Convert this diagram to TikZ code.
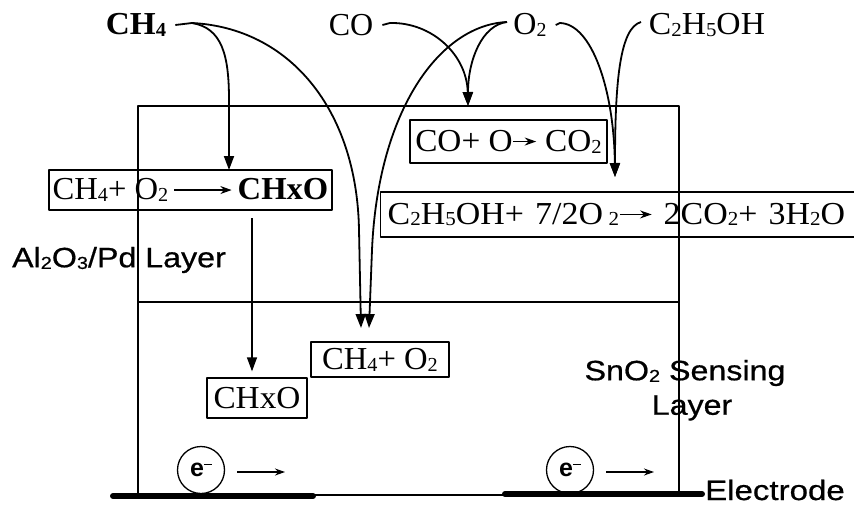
\documentclass[tikz,border=0pt]{standalone}
\usepackage{fontspec}
\usepackage{graphicx}
\setmainfont{Liberation Serif}
\setsansfont{Liberation Sans}
\newfontfamily\heavysans{Liberation Sans}[FakeBold=0.6]
\usetikzlibrary{arrows.meta}
\newcommand\dsub[1]{\raisebox{-0.06em}{\scalebox{0.62}{#1}}}
\newcommand\txtarrow[1]{\tikz[baseline=-0.3em]\draw[line width=1.3pt,-{Stealth[length=11pt,width=8pt]}] (0pt,0pt) -- (#1,0pt);}
\newcommand\wide[2]{\scalebox{#1}[1]{#2}}
\begin{document}
\begin{tikzpicture}[x=1pt,y=-1pt,line join=round,
  serif/.style={font=\fontsize{32}{36}\selectfont, inner sep=0pt},
  sans/.style={font=\heavysans\fontsize{28}{32}\selectfont, inner sep=0pt},
  box/.style={draw, line width=1.3pt, inner sep=0pt, font=\fontsize{32}{36}\selectfont},
  frame/.style={line width=1.5pt},
  curve/.style={line width=1.8pt},
  bigtip/.style={-{Triangle[length=14pt,width=10pt]}},
  etip/.style={line width=1.3pt,-{Stealth[length=10pt,width=7pt]}},
  electron/.style={draw, circle, line width=1.3pt, minimum size=47pt, inner sep=0pt, font=\sffamily\bfseries\fontsize{25}{27}\selectfont},
  electrode/.style={line width=6pt, line cap=round}]
\useasboundingbox (0,0) rectangle (854,506);

% gases
\node[serif] (ch4) at (136,25) {\wide{1.04}{\textbf{CH\dsub{4}}}};
\node[serif] (co) at (351,25) {CO};
\node[serif] (o2) at (530,25) {O\dsub{2}};
\node[serif] (et) at (707,25) {\wide{1.05}{C\dsub{2}H\dsub{5}OH}};

% reaction boxes
\node[box, minimum width=283pt, minimum height=40pt] (r1) at (190.5,190)
  {\wide{1.02}{CH\dsub{4}+ O\dsub{2}\,\txtarrow{56pt}\,\textbf{CHxO}}};
\node[box, minimum width=197pt, minimum height=43pt] (r2) at (508.5,141.5)
  {\wide{1.04}{CO+ O\txtarrow{22pt} CO\dsub{2}}};
\node[box, minimum width=480pt, minimum height=45pt, anchor=west, text width=466pt, inner xsep=7pt, align=left] (r3) at (380,214.5)
  {\wide{1.06}{C\dsub{2}H\dsub{5}OH+ 7/2O\,\dsub{2}\txtarrow{30pt} 2CO\dsub{2}+ 3H\dsub{2}O}};
\node[box, minimum width=138pt, minimum height=35pt] (r4) at (380,359.5)
  {\wide{1.02}{CH\dsub{4}+ O\dsub{2}}};
\node[box, minimum width=100pt, minimum height=40pt] (r5) at (257,398)
  {\wide{1.04}{CHxO}};

% layer labels
\node[sans] (al) at (119,260) {\wide{1.15}{Al\dsub{2}O\dsub{3}/Pd Layer}};
\node[sans] (sn1) at (685,373) {\wide{1.15}{SnO\dsub{2} Sensing}};
\node[sans] (sn2) at (692,408) {\wide{1.15}{Layer}};
\node[sans, anchor=west] (el) at (705,490) {\wide{1.18}{Electrode}};

% layers
\draw[frame] (138,106) rectangle (679,495);
\draw[frame] (138,302) -- (679,302);

% electrodes
\draw[electrode] (113,496) -- (313,496);
\draw[electrode] (505,494) -- (702,494);

% electrons
\node[electron] (e1) at (201,470) {e\raisebox{0.45em}{\rule{0.32em}{0.07em}}};
\node[electron] (e2) at (570,470) {e\raisebox{0.45em}{\rule{0.32em}{0.07em}}};
\coordinate (a1s) at (237,472);
\coordinate (a1e) at (285,472);
\coordinate (a2s) at (606,472);
\coordinate (a2e) at (654,472);
\draw[etip] (a1s) -- (a1e);
\draw[etip] (a2s) -- (a2e);

% junctions and tips
\coordinate (ch4j) at (192,23);
\coordinate (coj) at (390,23);
\coordinate (o2w) at (507,22);
\coordinate (o2e) at (560,23);
\coordinate (etj) at (641,22);
\coordinate (tipA) at (229,170);
\coordinate (tipB) at (361,328);
\coordinate (tipC) at (468,106);
\coordinate (tipD) at (369,328);
\coordinate (tipE) at (615,177);
\coordinate (dA) at (252,218);

% CH4 paths
\draw[curve] ([xshift=9pt]ch4.east) -- (ch4j);
\draw[curve,bigtip] (ch4j) .. controls (222,28) and (229,55) .. (229,100) -- (tipA);
\draw[curve,bigtip] (ch4j) .. controls (290,28) and (357,110) .. (359,230) -- (tipB);
% CO and O2 to CO oxidation
\draw[curve,bigtip] ([xshift=9pt]co.east) -- (coj) .. controls (432,22) and (467,55) .. (tipC);
\draw[curve,bigtip] (o2w) .. controls (482,25) and (468,60) .. (tipC);
\draw[curve,bigtip] (o2w) .. controls (440,25) and (378,110) .. (372,250) -- (tipD);
% O2 and ethanol
\draw[curve,bigtip] ([xshift=9pt]o2.east) -- (o2e) .. controls (592,24) and (614,90) .. (tipE);
\draw[curve,bigtip] (etj) .. controls (620,28) and (615,80) .. (tipE);
% CHxO into sensing layer
\draw[line width=1.3pt,bigtip,shorten >=6pt] (dA) -- (dA |- r5.north);
\end{tikzpicture}
\end{document}
